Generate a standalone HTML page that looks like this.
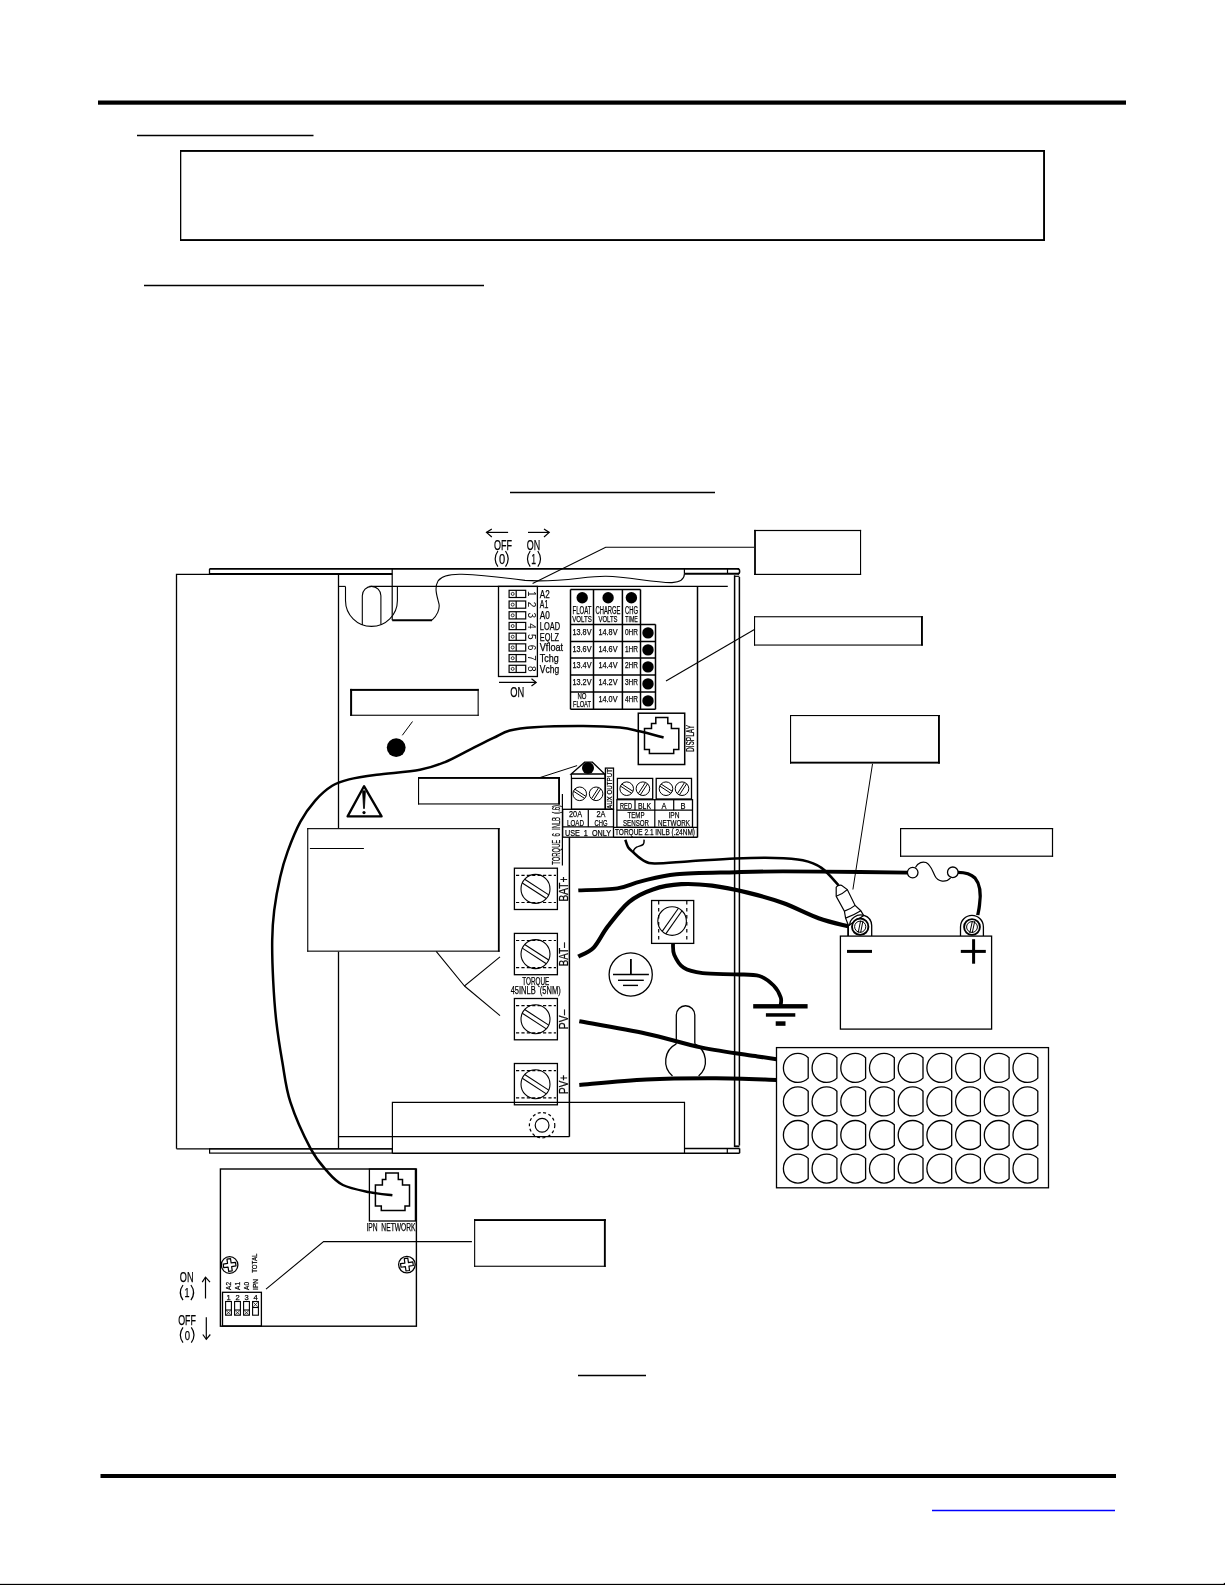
<!DOCTYPE html><html><head><meta charset="utf-8"><style>html,body{margin:0;padding:0;background:#fff;}svg{display:block;will-change:transform;}</style></head><body>
<svg width="1225" height="1585" viewBox="0 0 1225 1585" font-family='"Liberation Sans", sans-serif'>
<g stroke="#000" fill="none" stroke-linecap="butt">
<rect x="0" y="0" width="1225" height="1585" fill="#fff" stroke="none"/>
<rect x="98.00" y="100.50" width="1028.00" height="4.20" fill="#000" stroke="none"/>
<line x1="137.00" y1="135.50" x2="313.50" y2="135.50" stroke-width="1.3" />
<rect x="180.00" y="150.00" width="865.00" height="91.00" fill="#fff" stroke="none"/>
<rect x="180.00" y="150.00" width="1.30" height="91.00" fill="#000" stroke="none"/>
<rect x="180.00" y="150.00" width="865.00" height="1.90" fill="#000" stroke="none"/>
<rect x="1043.10" y="150.00" width="1.90" height="91.00" fill="#000" stroke="none"/>
<rect x="180.00" y="239.10" width="865.00" height="1.90" fill="#000" stroke="none"/>
<line x1="144.00" y1="285.50" x2="484.00" y2="285.50" stroke-width="1.3" />
<line x1="510.00" y1="492.50" x2="715.00" y2="492.50" stroke-width="1.3" />
<line x1="578.00" y1="1375.50" x2="646.00" y2="1375.50" stroke-width="1.3" />
<rect x="100.50" y="1474.00" width="1015.50" height="4.00" fill="#000" stroke="none"/>
<line x1="932.00" y1="1510.50" x2="1115.00" y2="1510.50" stroke-width="1.3" stroke="#0000ff"/>
<rect x="0.00" y="1583.85" width="1225.00" height="1.15" fill="#000" stroke="none"/>
<rect x="1223.80" y="1582.90" width="1.20" height="2.10" fill="#000" stroke="none"/>
<path d="M176.5,1148.8 V574.4 H392.2" stroke-width="1.3" />
<line x1="338.50" y1="574.40" x2="338.50" y2="1148.80" stroke-width="1.3" />
<line x1="176.50" y1="1148.80" x2="392.40" y2="1148.80" stroke-width="1.3" />
<line x1="209.50" y1="568.80" x2="739.00" y2="568.80" stroke-width="1.8" />
<line x1="209.50" y1="568.80" x2="209.50" y2="574.40" stroke-width="1.3" />
<line x1="209.50" y1="574.00" x2="392.20" y2="574.00" stroke-width="1.9" />
<line x1="684.40" y1="573.80" x2="739.00" y2="573.80" stroke-width="1.9" />
<line x1="684.40" y1="568.80" x2="684.40" y2="573.80" stroke-width="1.2" />
<line x1="727.50" y1="568.80" x2="727.50" y2="573.80" stroke-width="1.2" />
<path d="M737.5,568.8 Q739.6,568.8 739.6,571 V572 Q739.6,573.8 737.5,573.8" stroke-width="1.5" />
<line x1="734.60" y1="575.30" x2="734.60" y2="1147.10" stroke-width="1.5" />
<line x1="739.40" y1="577.00" x2="739.40" y2="1145.50" stroke-width="1.5" />
<line x1="734.60" y1="576.30" x2="739.40" y2="576.30" stroke-width="1.2" />
<line x1="734.60" y1="1146.30" x2="739.40" y2="1146.30" stroke-width="1.8" />
<rect x="209.60" y="1148.80" width="182.80" height="4.30" stroke-width="1.2" />
<line x1="392.40" y1="1153.20" x2="739.60" y2="1153.20" stroke-width="1.5" />
<path d="M392.4,1153.2 V1102.4 H684.5 V1153.2" stroke-width="1.2" />
<line x1="684.50" y1="1148.40" x2="739.60" y2="1148.40" stroke-width="1.5" />
<line x1="739.60" y1="1148.40" x2="739.60" y2="1153.20" stroke-width="1.5" />
<line x1="727.30" y1="1148.40" x2="727.30" y2="1153.20" stroke-width="1.2" />
<line x1="338.50" y1="586.40" x2="345.50" y2="586.40" stroke-width="1.1" />
<line x1="369.40" y1="586.40" x2="727.80" y2="586.40" stroke-width="1.1" />
<path d="M345.5,586.4 V600.5 A25.95,25.95 0 0 0 397.4,600.5 V586.4" stroke-width="1.1" />
<path d="M362.3,625 V595.7 A9.3,9.3 0 0 1 380.9,595.7 V624.5" stroke-width="1.1" />
<line x1="392.20" y1="568.80" x2="392.20" y2="620.30" stroke-width="1.2" />
<line x1="392.20" y1="620.20" x2="432.00" y2="620.20" stroke-width="1.9" />
<path d="M432,620.2 C437,616 440,609 439,604 C437,596 434,588 438,581 C442,575 452,574 462,574.3 C480,575 500,577 525,580.4 C560,583 585,576 606,576.3 C630,577 655,583 672,582.6 C682,582 684.4,578 684.4,573.8" stroke-width="1.1" />
<line x1="338.50" y1="1136.70" x2="569.40" y2="1136.70" stroke-width="1.2" />
<line x1="697.50" y1="586.40" x2="697.50" y2="837.40" stroke-width="1.5" />
<line x1="613.50" y1="837.30" x2="697.50" y2="837.30" stroke-width="1.5" />
<line x1="569.40" y1="837.30" x2="569.40" y2="1136.70" stroke-width="1.5" />
<line x1="562.40" y1="794.00" x2="562.40" y2="865.60" stroke-width="1.2" />
<rect x="498.50" y="586.40" width="38.90" height="90.10" stroke-width="1.3" />
<rect x="509.10" y="590.30" width="16.60" height="7.20" stroke-width="1.2" />
<line x1="516.20" y1="590.30" x2="516.20" y2="597.50" stroke-width="1.2" />
<circle cx="512.70" cy="593.90" r="1.50" stroke-width="0.8" />
<text transform="translate(531.8,593.90) rotate(90)" x="0" y="3.9" font-size="10.5" text-anchor="middle" fill="#000" stroke="none" textLength="5.6" lengthAdjust="spacingAndGlyphs">1</text>
<text x="539.80" y="597.70" font-size="10.4" text-anchor="start" textLength="9.90" lengthAdjust="spacingAndGlyphs" font-weight="normal" fill="#000" stroke="#000" stroke-width="0.25">A2</text>
<rect x="509.10" y="601.01" width="16.60" height="7.20" stroke-width="1.2" />
<line x1="516.20" y1="601.01" x2="516.20" y2="608.21" stroke-width="1.2" />
<circle cx="512.70" cy="604.61" r="1.50" stroke-width="0.8" />
<text transform="translate(531.8,604.61) rotate(90)" x="0" y="3.9" font-size="10.5" text-anchor="middle" fill="#000" stroke="none" textLength="5.6" lengthAdjust="spacingAndGlyphs">2</text>
<text x="539.80" y="608.41" font-size="10.4" text-anchor="start" textLength="8.50" lengthAdjust="spacingAndGlyphs" font-weight="normal" fill="#000" stroke="#000" stroke-width="0.25">A1</text>
<rect x="509.10" y="611.72" width="16.60" height="7.20" stroke-width="1.2" />
<line x1="516.20" y1="611.72" x2="516.20" y2="618.92" stroke-width="1.2" />
<circle cx="512.70" cy="615.32" r="1.50" stroke-width="0.8" />
<text transform="translate(531.8,615.32) rotate(90)" x="0" y="3.9" font-size="10.5" text-anchor="middle" fill="#000" stroke="none" textLength="5.6" lengthAdjust="spacingAndGlyphs">3</text>
<text x="539.80" y="619.12" font-size="10.4" text-anchor="start" textLength="10.10" lengthAdjust="spacingAndGlyphs" font-weight="normal" fill="#000" stroke="#000" stroke-width="0.25">A0</text>
<rect x="509.10" y="622.43" width="16.60" height="7.20" stroke-width="1.2" />
<line x1="516.20" y1="622.43" x2="516.20" y2="629.63" stroke-width="1.2" />
<circle cx="512.70" cy="626.03" r="1.50" stroke-width="0.8" />
<text transform="translate(531.8,626.03) rotate(90)" x="0" y="3.9" font-size="10.5" text-anchor="middle" fill="#000" stroke="none" textLength="5.6" lengthAdjust="spacingAndGlyphs">4</text>
<text x="539.80" y="629.83" font-size="10.4" text-anchor="start" textLength="20.20" lengthAdjust="spacingAndGlyphs" font-weight="normal" fill="#000" stroke="#000" stroke-width="0.25">LOAD</text>
<rect x="509.10" y="633.14" width="16.60" height="7.20" stroke-width="1.2" />
<line x1="516.20" y1="633.14" x2="516.20" y2="640.34" stroke-width="1.2" />
<circle cx="512.70" cy="636.74" r="1.50" stroke-width="0.8" />
<text transform="translate(531.8,636.74) rotate(90)" x="0" y="3.9" font-size="10.5" text-anchor="middle" fill="#000" stroke="none" textLength="5.6" lengthAdjust="spacingAndGlyphs">5</text>
<text x="539.80" y="640.54" font-size="10.4" text-anchor="start" textLength="19.30" lengthAdjust="spacingAndGlyphs" font-weight="normal" fill="#000" stroke="#000" stroke-width="0.25">EQLZ</text>
<rect x="509.10" y="643.85" width="16.60" height="7.20" stroke-width="1.2" />
<line x1="516.20" y1="643.85" x2="516.20" y2="651.05" stroke-width="1.2" />
<circle cx="512.70" cy="647.45" r="1.50" stroke-width="0.8" />
<text transform="translate(531.8,647.45) rotate(90)" x="0" y="3.9" font-size="10.5" text-anchor="middle" fill="#000" stroke="none" textLength="5.6" lengthAdjust="spacingAndGlyphs">6</text>
<text x="539.80" y="651.25" font-size="10.4" text-anchor="start" textLength="23.30" lengthAdjust="spacingAndGlyphs" font-weight="normal" fill="#000" stroke="#000" stroke-width="0.25">Vfloat</text>
<rect x="509.10" y="654.56" width="16.60" height="7.20" stroke-width="1.2" />
<line x1="516.20" y1="654.56" x2="516.20" y2="661.76" stroke-width="1.2" />
<circle cx="512.70" cy="658.16" r="1.50" stroke-width="0.8" />
<text transform="translate(531.8,658.16) rotate(90)" x="0" y="3.9" font-size="10.5" text-anchor="middle" fill="#000" stroke="none" textLength="5.6" lengthAdjust="spacingAndGlyphs">7</text>
<text x="539.80" y="661.96" font-size="10.4" text-anchor="start" textLength="18.90" lengthAdjust="spacingAndGlyphs" font-weight="normal" fill="#000" stroke="#000" stroke-width="0.25">Tchg</text>
<rect x="509.10" y="665.27" width="16.60" height="7.20" stroke-width="1.2" />
<line x1="516.20" y1="665.27" x2="516.20" y2="672.47" stroke-width="1.2" />
<circle cx="512.70" cy="668.87" r="1.50" stroke-width="0.8" />
<text transform="translate(531.8,668.87) rotate(90)" x="0" y="3.9" font-size="10.5" text-anchor="middle" fill="#000" stroke="none" textLength="5.6" lengthAdjust="spacingAndGlyphs">8</text>
<text x="539.80" y="672.67" font-size="10.4" text-anchor="start" textLength="19.30" lengthAdjust="spacingAndGlyphs" font-weight="normal" fill="#000" stroke="#000" stroke-width="0.25">Vchg</text>
<line x1="499.00" y1="682.40" x2="536.00" y2="682.40" stroke-width="1.2" />
<path d="M531.5,678.8 L536.2,682.4 L531.5,686" stroke-width="1.2" />
<text x="510.20" y="696.70" font-size="14.8" text-anchor="start" textLength="14.00" lengthAdjust="spacingAndGlyphs" font-weight="normal" fill="#000" stroke="#000" stroke-width="0.25">ON</text>
<line x1="486.50" y1="532.40" x2="508.10" y2="532.40" stroke-width="1.2" />
<path d="M491.8,529.1 L486.5,532.4 L491.8,537" stroke-width="1.2" />
<line x1="528.00" y1="532.40" x2="549.20" y2="532.40" stroke-width="1.2" />
<path d="M544,529.1 L549.2,532.4 L544,537" stroke-width="1.2" />
<text x="494.00" y="549.50" font-size="15.2" text-anchor="start" textLength="18.00" lengthAdjust="spacingAndGlyphs" font-weight="normal" fill="#000" stroke="#000" stroke-width="0.25">OFF</text>
<path d="M497.90,551.00 Q492.50,558.85 497.90,566.70" stroke-width="1.2" />
<path d="M505.50,551.00 Q510.90,558.85 505.50,566.70" stroke-width="1.2" />
<text x="498.90" y="563.80" font-size="14.81" text-anchor="start" textLength="6.20" lengthAdjust="spacingAndGlyphs" font-weight="normal" fill="#000" stroke="#000" stroke-width="0.25">0</text>
<text x="526.70" y="549.50" font-size="15.2" text-anchor="start" textLength="13.40" lengthAdjust="spacingAndGlyphs" font-weight="normal" fill="#000" stroke="#000" stroke-width="0.25">ON</text>
<path d="M530.20,551.00 Q524.80,558.85 530.20,566.70" stroke-width="1.2" />
<path d="M537.80,551.00 Q543.20,558.85 537.80,566.70" stroke-width="1.2" />
<text x="531.20" y="563.80" font-size="14.81" text-anchor="start" textLength="4.80" lengthAdjust="spacingAndGlyphs" font-weight="normal" fill="#000" stroke="#000" stroke-width="0.25">1</text>
<line x1="570.50" y1="589.50" x2="640.50" y2="589.50" stroke-width="1.5" />
<line x1="570.50" y1="589.50" x2="570.50" y2="709.30" stroke-width="1.5" />
<line x1="593.50" y1="589.50" x2="593.50" y2="709.30" stroke-width="1.5" />
<line x1="622.40" y1="589.50" x2="622.40" y2="709.30" stroke-width="1.5" />
<line x1="640.50" y1="589.50" x2="640.50" y2="709.30" stroke-width="1.5" />
<line x1="655.50" y1="624.40" x2="655.50" y2="709.30" stroke-width="1.5" />
<line x1="570.50" y1="624.40" x2="655.50" y2="624.40" stroke-width="1.5" />
<line x1="570.50" y1="641.40" x2="655.50" y2="641.40" stroke-width="1.5" />
<line x1="570.50" y1="658.00" x2="655.50" y2="658.00" stroke-width="1.5" />
<line x1="570.50" y1="675.00" x2="655.50" y2="675.00" stroke-width="1.5" />
<line x1="570.50" y1="692.00" x2="655.50" y2="692.00" stroke-width="1.5" />
<line x1="570.50" y1="709.30" x2="655.50" y2="709.30" stroke-width="1.5" />
<circle cx="582.20" cy="597.70" r="5.70" fill="#000" stroke="none"/>
<circle cx="608.10" cy="597.70" r="5.70" fill="#000" stroke="none"/>
<circle cx="631.40" cy="597.70" r="5.70" fill="#000" stroke="none"/>
<circle cx="648.00" cy="632.90" r="5.70" fill="#000" stroke="none"/>
<circle cx="648.00" cy="649.90" r="5.70" fill="#000" stroke="none"/>
<circle cx="648.00" cy="666.90" r="5.70" fill="#000" stroke="none"/>
<circle cx="648.00" cy="683.90" r="5.70" fill="#000" stroke="none"/>
<circle cx="648.00" cy="700.90" r="5.70" fill="#000" stroke="none"/>
<text x="582.00" y="613.70" font-size="10" text-anchor="middle" textLength="19.00" lengthAdjust="spacingAndGlyphs" font-weight="normal" fill="#000" stroke="#000" stroke-width="0.25">FLOAT</text>
<text x="582.00" y="621.60" font-size="9.4" text-anchor="middle" textLength="19.50" lengthAdjust="spacingAndGlyphs" font-weight="normal" fill="#000" stroke="#000" stroke-width="0.25">VOLTS</text>
<text x="608.00" y="613.70" font-size="10" text-anchor="middle" textLength="25.00" lengthAdjust="spacingAndGlyphs" font-weight="normal" fill="#000" stroke="#000" stroke-width="0.25">CHARGE</text>
<text x="608.00" y="621.60" font-size="9.4" text-anchor="middle" textLength="19.00" lengthAdjust="spacingAndGlyphs" font-weight="normal" fill="#000" stroke="#000" stroke-width="0.25">VOLTS</text>
<text x="631.50" y="613.70" font-size="10" text-anchor="middle" textLength="13.00" lengthAdjust="spacingAndGlyphs" font-weight="normal" fill="#000" stroke="#000" stroke-width="0.25">CHG</text>
<text x="631.50" y="621.60" font-size="9.4" text-anchor="middle" textLength="12.50" lengthAdjust="spacingAndGlyphs" font-weight="normal" fill="#000" stroke="#000" stroke-width="0.25">TIME</text>
<text x="582.00" y="634.80" font-size="9" text-anchor="middle" textLength="19.00" lengthAdjust="spacingAndGlyphs" font-weight="normal" fill="#000" stroke="#000" stroke-width="0.25">13.8V</text>
<text x="608.00" y="634.80" font-size="9" text-anchor="middle" textLength="19.00" lengthAdjust="spacingAndGlyphs" font-weight="normal" fill="#000" stroke="#000" stroke-width="0.25">14.8V</text>
<text x="631.50" y="634.80" font-size="9" text-anchor="middle" textLength="13.00" lengthAdjust="spacingAndGlyphs" font-weight="normal" fill="#000" stroke="#000" stroke-width="0.25">0HR</text>
<text x="582.00" y="651.80" font-size="9" text-anchor="middle" textLength="19.00" lengthAdjust="spacingAndGlyphs" font-weight="normal" fill="#000" stroke="#000" stroke-width="0.25">13.6V</text>
<text x="608.00" y="651.80" font-size="9" text-anchor="middle" textLength="19.00" lengthAdjust="spacingAndGlyphs" font-weight="normal" fill="#000" stroke="#000" stroke-width="0.25">14.6V</text>
<text x="631.50" y="651.80" font-size="9" text-anchor="middle" textLength="13.00" lengthAdjust="spacingAndGlyphs" font-weight="normal" fill="#000" stroke="#000" stroke-width="0.25">1HR</text>
<text x="582.00" y="668.40" font-size="9" text-anchor="middle" textLength="19.00" lengthAdjust="spacingAndGlyphs" font-weight="normal" fill="#000" stroke="#000" stroke-width="0.25">13.4V</text>
<text x="608.00" y="668.40" font-size="9" text-anchor="middle" textLength="19.00" lengthAdjust="spacingAndGlyphs" font-weight="normal" fill="#000" stroke="#000" stroke-width="0.25">14.4V</text>
<text x="631.50" y="668.40" font-size="9" text-anchor="middle" textLength="13.00" lengthAdjust="spacingAndGlyphs" font-weight="normal" fill="#000" stroke="#000" stroke-width="0.25">2HR</text>
<text x="582.00" y="685.40" font-size="9" text-anchor="middle" textLength="19.00" lengthAdjust="spacingAndGlyphs" font-weight="normal" fill="#000" stroke="#000" stroke-width="0.25">13.2V</text>
<text x="608.00" y="685.40" font-size="9" text-anchor="middle" textLength="19.00" lengthAdjust="spacingAndGlyphs" font-weight="normal" fill="#000" stroke="#000" stroke-width="0.25">14.2V</text>
<text x="631.50" y="685.40" font-size="9" text-anchor="middle" textLength="13.00" lengthAdjust="spacingAndGlyphs" font-weight="normal" fill="#000" stroke="#000" stroke-width="0.25">3HR</text>
<text x="608.00" y="702.40" font-size="9" text-anchor="middle" textLength="19.00" lengthAdjust="spacingAndGlyphs" font-weight="normal" fill="#000" stroke="#000" stroke-width="0.25">14.0V</text>
<text x="631.50" y="702.40" font-size="9" text-anchor="middle" textLength="13.00" lengthAdjust="spacingAndGlyphs" font-weight="normal" fill="#000" stroke="#000" stroke-width="0.25">4HR</text>
<text x="582.00" y="698.80" font-size="9" text-anchor="middle" textLength="9.00" lengthAdjust="spacingAndGlyphs" font-weight="normal" fill="#000" stroke="#000" stroke-width="0.25">NO</text>
<text x="582.00" y="707.00" font-size="9" text-anchor="middle" textLength="18.00" lengthAdjust="spacingAndGlyphs" font-weight="normal" fill="#000" stroke="#000" stroke-width="0.25">FLOAT</text>
<path d="M532.6,583.6 L605.7,547.3 H754.4" stroke-width="1.1" />
<line x1="666.00" y1="681.00" x2="754.40" y2="629.60" stroke-width="1.1" />
<rect x="754.10" y="529.90" width="107.00" height="45.10" fill="#fff" stroke="none"/>
<rect x="754.10" y="529.90" width="1.80" height="45.10" fill="#000" stroke="none"/>
<rect x="754.10" y="529.90" width="107.00" height="1.20" fill="#000" stroke="none"/>
<rect x="860.00" y="529.90" width="1.10" height="45.10" fill="#000" stroke="none"/>
<rect x="754.10" y="573.80" width="107.00" height="1.20" fill="#000" stroke="none"/>
<rect x="754.00" y="616.20" width="168.90" height="29.40" fill="#fff" stroke="none"/>
<rect x="754.00" y="616.20" width="1.10" height="29.40" fill="#000" stroke="none"/>
<rect x="754.00" y="616.20" width="168.90" height="1.10" fill="#000" stroke="none"/>
<rect x="921.00" y="616.20" width="1.90" height="29.40" fill="#000" stroke="none"/>
<rect x="754.00" y="644.50" width="168.90" height="1.10" fill="#000" stroke="none"/>
<rect x="638.30" y="713.20" width="46.40" height="51.30" stroke-width="1.5" />
<path d="M655.8,717.6 H667.8 V723.5 H671.4 V728.4 H678.8 V749.5 H673.7 V753.4 H649.4 V749.5 H644.5 V728.4 H651.5 V723.5 H655.8 Z" stroke-width="1.5" />
<text x="694.00" y="738.50" font-size="10" text-anchor="middle" textLength="27.00" lengthAdjust="spacingAndGlyphs" transform="rotate(-90 694.00 738.50)" font-weight="normal" fill="#000" stroke="#000" stroke-width="0.25">DISPLAY</text>
<path d="M571.2,774 L584.6,762.2 H592.4 L604.7,774 Z" stroke-width="1.3" />
<circle cx="588.00" cy="768.10" r="6.00" fill="#000" stroke="none"/>
<rect x="571.50" y="778.40" width="33.60" height="30.90" stroke-width="1.3" />
<line x1="571.20" y1="774.00" x2="571.50" y2="778.40" stroke-width="1.2" />
<line x1="604.70" y1="774.00" x2="605.10" y2="778.40" stroke-width="1.2" />
<circle cx="579.70" cy="793.80" r="6.80" stroke-width="1.0" />
<line x1="574.74" y1="789.15" x2="585.97" y2="796.44" stroke-width="1.0" />
<line x1="573.43" y1="791.16" x2="584.66" y2="798.45" stroke-width="1.0" />
<circle cx="596.10" cy="793.80" r="6.80" stroke-width="1.0" />
<line x1="591.45" y1="798.76" x2="598.74" y2="787.53" stroke-width="1.0" />
<line x1="593.46" y1="800.07" x2="600.75" y2="788.84" stroke-width="1.0" />
<rect x="605.40" y="768.10" width="8.10" height="41.20" stroke-width="1.3" />
<text x="612.30" y="789.00" font-size="8" text-anchor="middle" textLength="40.00" lengthAdjust="spacingAndGlyphs" transform="rotate(-90 612.30 789.00)" font-weight="normal" fill="#000" stroke="#000" stroke-width="0.25">AUX OUTPUT</text>
<rect x="562.70" y="809.30" width="50.80" height="27.90" stroke-width="1.3" />
<line x1="588.30" y1="809.30" x2="588.30" y2="826.90" stroke-width="1.2" />
<line x1="562.70" y1="826.90" x2="613.50" y2="826.90" stroke-width="1.2" />
<text x="575.50" y="817.30" font-size="9.5" text-anchor="middle" textLength="13.00" lengthAdjust="spacingAndGlyphs" font-weight="normal" fill="#000" stroke="#000" stroke-width="0.25">20A</text>
<text x="575.50" y="825.80" font-size="9.5" text-anchor="middle" textLength="17.00" lengthAdjust="spacingAndGlyphs" font-weight="normal" fill="#000" stroke="#000" stroke-width="0.25">LOAD</text>
<text x="601.00" y="817.30" font-size="9.5" text-anchor="middle" textLength="9.00" lengthAdjust="spacingAndGlyphs" font-weight="normal" fill="#000" stroke="#000" stroke-width="0.25">2A</text>
<text x="601.00" y="825.80" font-size="9.5" text-anchor="middle" textLength="13.00" lengthAdjust="spacingAndGlyphs" font-weight="normal" fill="#000" stroke="#000" stroke-width="0.25">CHG</text>
<text x="588.00" y="835.60" font-size="9.5" text-anchor="middle" textLength="46.00" lengthAdjust="spacingAndGlyphs" font-weight="normal" fill="#000" stroke="#000" stroke-width="0.25">USE &#160;1 &#160;ONLY</text>
<text x="560.30" y="834.80" font-size="10" text-anchor="middle" textLength="59.70" lengthAdjust="spacingAndGlyphs" transform="rotate(-90 560.30 834.80)" font-weight="normal" fill="#000" stroke="#000" stroke-width="0.25">TORQUE &#160;6 &#160;INLB &#160;(.6)</text>
<rect x="617.40" y="778.40" width="35.30" height="20.60" stroke-width="1.3" />
<circle cx="626.70" cy="788.70" r="6.80" stroke-width="1.0" />
<line x1="621.74" y1="784.05" x2="632.97" y2="791.34" stroke-width="1.0" />
<line x1="620.43" y1="786.06" x2="631.66" y2="793.35" stroke-width="1.0" />
<circle cx="642.90" cy="788.70" r="6.80" stroke-width="1.0" />
<line x1="638.25" y1="793.66" x2="645.54" y2="782.43" stroke-width="1.0" />
<line x1="640.26" y1="794.97" x2="647.55" y2="783.74" stroke-width="1.0" />
<rect x="656.20" y="778.40" width="35.30" height="20.60" stroke-width="1.3" />
<circle cx="666.00" cy="788.70" r="6.80" stroke-width="1.0" />
<line x1="661.04" y1="784.05" x2="672.27" y2="791.34" stroke-width="1.0" />
<line x1="659.73" y1="786.06" x2="670.96" y2="793.35" stroke-width="1.0" />
<circle cx="682.00" cy="788.70" r="6.80" stroke-width="1.0" />
<line x1="677.35" y1="793.66" x2="684.64" y2="782.43" stroke-width="1.0" />
<line x1="679.36" y1="794.97" x2="686.65" y2="783.74" stroke-width="1.0" />
<rect x="616.90" y="799.70" width="75.60" height="27.70" stroke-width="1.3" />
<line x1="635.00" y1="799.70" x2="635.00" y2="810.20" stroke-width="1.2" />
<line x1="654.80" y1="799.70" x2="654.80" y2="827.40" stroke-width="1.2" />
<line x1="673.70" y1="799.70" x2="673.70" y2="810.20" stroke-width="1.2" />
<line x1="616.90" y1="810.20" x2="692.50" y2="810.20" stroke-width="1.2" />
<line x1="613.50" y1="827.40" x2="697.50" y2="827.40" stroke-width="1.2" />
<text x="626.00" y="808.50" font-size="9" text-anchor="middle" textLength="12.00" lengthAdjust="spacingAndGlyphs" font-weight="normal" fill="#000" stroke="#000" stroke-width="0.25">RED</text>
<text x="644.50" y="808.50" font-size="9" text-anchor="middle" textLength="13.00" lengthAdjust="spacingAndGlyphs" font-weight="normal" fill="#000" stroke="#000" stroke-width="0.25">BLK</text>
<text x="664.00" y="808.50" font-size="9" text-anchor="middle" textLength="5.00" lengthAdjust="spacingAndGlyphs" font-weight="normal" fill="#000" stroke="#000" stroke-width="0.25">A</text>
<text x="683.00" y="808.50" font-size="9" text-anchor="middle" textLength="5.00" lengthAdjust="spacingAndGlyphs" font-weight="normal" fill="#000" stroke="#000" stroke-width="0.25">B</text>
<text x="636.00" y="817.60" font-size="9.5" text-anchor="middle" textLength="17.00" lengthAdjust="spacingAndGlyphs" font-weight="normal" fill="#000" stroke="#000" stroke-width="0.25">TEMP</text>
<text x="636.00" y="826.20" font-size="9.5" text-anchor="middle" textLength="26.00" lengthAdjust="spacingAndGlyphs" font-weight="normal" fill="#000" stroke="#000" stroke-width="0.25">SENSOR</text>
<text x="674.00" y="817.60" font-size="9.5" text-anchor="middle" textLength="11.00" lengthAdjust="spacingAndGlyphs" font-weight="normal" fill="#000" stroke="#000" stroke-width="0.25">IPN</text>
<text x="674.00" y="826.20" font-size="9.5" text-anchor="middle" textLength="32.00" lengthAdjust="spacingAndGlyphs" font-weight="normal" fill="#000" stroke="#000" stroke-width="0.25">NETWORK</text>
<text x="655.00" y="835.40" font-size="9" text-anchor="middle" textLength="80.00" lengthAdjust="spacingAndGlyphs" font-weight="normal" fill="#000" stroke="#000" stroke-width="0.25">TORQUE 2.1 INLB (.24NM)</text>
<rect x="514.40" y="868.20" width="43.00" height="41.30" stroke-width="1.3" />
<line x1="516.00" y1="875.30" x2="556.00" y2="875.30" stroke-width="1.2" stroke-dasharray="3.2 2.2"/>
<line x1="516.00" y1="902.50" x2="556.00" y2="902.50" stroke-width="1.2" stroke-dasharray="3.2 2.2"/>
<circle cx="535.50" cy="888.90" r="14.50" stroke-width="1.1" />
<line x1="524.68" y1="879.25" x2="548.72" y2="894.86" stroke-width="1.1" />
<line x1="522.28" y1="882.94" x2="546.32" y2="898.55" stroke-width="1.1" />
<text x="567.60" y="889.10" font-size="12" text-anchor="middle" textLength="25.00" lengthAdjust="spacingAndGlyphs" transform="rotate(-90 567.60 889.10)" font-weight="normal" fill="#000" stroke="#000" stroke-width="0.25">BAT+</text>
<rect x="514.40" y="933.40" width="43.00" height="41.30" stroke-width="1.3" />
<line x1="516.00" y1="940.50" x2="556.00" y2="940.50" stroke-width="1.2" stroke-dasharray="3.2 2.2"/>
<line x1="516.00" y1="967.70" x2="556.00" y2="967.70" stroke-width="1.2" stroke-dasharray="3.2 2.2"/>
<circle cx="535.50" cy="954.10" r="14.50" stroke-width="1.1" />
<line x1="524.68" y1="944.45" x2="548.72" y2="960.06" stroke-width="1.1" />
<line x1="522.28" y1="948.14" x2="546.32" y2="963.75" stroke-width="1.1" />
<text x="567.60" y="954.30" font-size="12" text-anchor="middle" textLength="23.70" lengthAdjust="spacingAndGlyphs" transform="rotate(-90 567.60 954.30)" font-weight="normal" fill="#000" stroke="#000" stroke-width="0.25">BAT–</text>
<rect x="514.40" y="998.50" width="43.00" height="41.30" stroke-width="1.3" />
<line x1="516.00" y1="1005.60" x2="556.00" y2="1005.60" stroke-width="1.2" stroke-dasharray="3.2 2.2"/>
<line x1="516.00" y1="1032.80" x2="556.00" y2="1032.80" stroke-width="1.2" stroke-dasharray="3.2 2.2"/>
<circle cx="535.50" cy="1019.20" r="14.50" stroke-width="1.1" />
<line x1="524.68" y1="1009.55" x2="548.72" y2="1025.16" stroke-width="1.1" />
<line x1="522.28" y1="1013.24" x2="546.32" y2="1028.85" stroke-width="1.1" />
<text x="567.60" y="1019.40" font-size="12" text-anchor="middle" textLength="19.60" lengthAdjust="spacingAndGlyphs" transform="rotate(-90 567.60 1019.40)" font-weight="normal" fill="#000" stroke="#000" stroke-width="0.25">PV–</text>
<rect x="514.40" y="1063.50" width="43.00" height="41.30" stroke-width="1.3" />
<line x1="516.00" y1="1070.60" x2="556.00" y2="1070.60" stroke-width="1.2" stroke-dasharray="3.2 2.2"/>
<line x1="516.00" y1="1097.80" x2="556.00" y2="1097.80" stroke-width="1.2" stroke-dasharray="3.2 2.2"/>
<circle cx="535.50" cy="1084.20" r="14.50" stroke-width="1.1" />
<line x1="524.68" y1="1074.55" x2="548.72" y2="1090.16" stroke-width="1.1" />
<line x1="522.28" y1="1078.24" x2="546.32" y2="1093.85" stroke-width="1.1" />
<text x="567.60" y="1084.40" font-size="12" text-anchor="middle" textLength="19.00" lengthAdjust="spacingAndGlyphs" transform="rotate(-90 567.60 1084.40)" font-weight="normal" fill="#000" stroke="#000" stroke-width="0.25">PV+</text>
<text x="535.70" y="984.70" font-size="10" text-anchor="middle" textLength="27.00" lengthAdjust="spacingAndGlyphs" font-weight="normal" fill="#000" stroke="#000" stroke-width="0.25">TORQUE</text>
<text x="535.70" y="994.20" font-size="10" text-anchor="middle" textLength="50.00" lengthAdjust="spacingAndGlyphs" font-weight="normal" fill="#000" stroke="#000" stroke-width="0.25">45INLB &#160;(5NM)</text>
<circle cx="542.10" cy="1125.20" r="12.70" stroke-width="1.2" stroke-dasharray="3 2.5"/>
<circle cx="542.10" cy="1125.20" r="6.90" stroke-width="1.2" />
<circle cx="630.70" cy="974.50" r="21.60" stroke-width="1.3" />
<line x1="630.90" y1="959.00" x2="630.90" y2="974.50" stroke-width="1.8" />
<line x1="613.00" y1="974.50" x2="648.90" y2="974.50" stroke-width="1.4" />
<line x1="618.00" y1="980.30" x2="643.80" y2="980.30" stroke-width="1.4" />
<line x1="623.00" y1="985.40" x2="638.00" y2="985.40" stroke-width="1.4" />
<rect x="651.60" y="900.50" width="42.10" height="42.90" stroke-width="1.3" />
<line x1="658.70" y1="901.00" x2="658.70" y2="943.00" stroke-width="1.2" stroke-dasharray="3.5 3.5"/>
<line x1="686.80" y1="901.00" x2="686.80" y2="943.00" stroke-width="1.2" stroke-dasharray="3.5 3.5"/>
<circle cx="672.10" cy="921.10" r="14.30" stroke-width="1.1" />
<line x1="662.19" y1="931.41" x2="678.40" y2="908.26" stroke-width="1.1" />
<line x1="665.80" y1="933.94" x2="682.01" y2="910.79" stroke-width="1.1" />
<path d="M676.3,1043.8 V1015 A9.25,9.25 0 0 1 694.8,1015 V1043.8" stroke-width="1.3" />
<path d="M676.3,1043.8 A19.5,19.5 0 0 0 672.5,1076 M698.6,1076 A19.5,19.5 0 0 0 694.8,1043.8" stroke-width="1.3" />
<path d="M673.00,943.40 C673.20,945.28 672.43,950.65 674.20,954.70 C675.97,958.75 678.87,964.62 683.60,967.70 C688.33,970.78 693.92,972.10 702.60,973.20 C711.28,974.30 726.23,973.83 735.70,974.30 C745.17,974.77 753.08,974.13 759.40,976.00 C765.72,977.87 770.05,981.95 773.60,985.50 C777.15,989.05 779.52,994.05 780.70,997.30 C781.88,1000.55 780.70,1003.72 780.70,1005.00" stroke-width="3.8" />
<rect x="753.20" y="1004.10" width="54.40" height="4.40" fill="#000" stroke="none"/>
<rect x="765.90" y="1013.20" width="29.40" height="3.50" fill="#000" stroke="none"/>
<rect x="775.70" y="1021.30" width="9.80" height="4.50" fill="#000" stroke="none"/>
<path d="M663.60,737.50 C659.60,736.47 646.87,732.95 639.60,731.30 C632.33,729.65 629.38,728.47 620.00,727.60 C610.62,726.73 597.58,726.17 583.30,726.10 C569.02,726.03 546.55,726.47 534.30,727.20 C522.05,727.93 516.60,728.72 509.80,730.50 C503.00,732.28 500.30,734.63 493.50,737.90 C486.70,741.17 477.17,746.03 469.00,750.10 C460.83,754.17 452.67,759.03 444.50,762.30 C436.33,765.57 431.30,767.62 420.00,769.70 C408.70,771.78 388.52,773.18 376.70,774.80 C364.88,776.42 356.52,777.57 349.10,779.40 C341.68,781.23 337.85,782.27 332.20,785.80 C326.55,789.33 320.52,794.58 315.20,800.60 C309.88,806.62 304.90,813.40 300.30,821.90 C295.70,830.40 290.95,842.42 287.60,851.60 C284.25,860.78 282.43,867.22 280.20,877.00 C277.97,886.78 275.53,899.70 274.20,910.30 C272.87,920.90 272.37,928.82 272.20,940.60 C272.03,952.38 272.52,967.53 273.20,981.00 C273.88,994.47 274.78,1007.93 276.30,1021.40 C277.82,1034.87 279.95,1048.33 282.30,1061.80 C284.65,1075.27 285.68,1087.72 290.40,1102.20 C295.12,1116.68 304.53,1137.25 310.60,1148.70 C316.67,1160.15 321.42,1164.85 326.80,1170.90 C332.18,1176.95 335.83,1181.47 342.90,1185.00 C349.97,1188.53 360.95,1190.40 369.20,1192.10 C377.45,1193.80 388.53,1194.68 392.40,1195.20" stroke-width="2.5" />
<path d="M625.30,839.70 C625.77,840.95 626.68,845.02 628.10,847.20 C629.52,849.38 631.28,850.62 633.80,852.80 C636.32,854.98 639.77,858.52 643.20,860.30 C646.63,862.08 646.58,863.33 654.40,863.50 C662.22,863.67 676.63,862.13 690.10,861.30 C703.57,860.47 721.12,859.07 735.20,858.50 C749.28,857.93 763.33,857.60 774.60,857.90 C785.87,858.20 794.98,858.63 802.80,860.30 C810.62,861.97 815.55,863.75 821.50,867.90 C827.45,872.05 835.67,882.32 838.50,885.20" stroke-width="2.5" />
<path d="M644.10,839.70 C643.95,840.48 644.45,843.15 643.20,844.40 C641.95,845.65 638.17,846.27 636.60,847.20 C635.03,848.13 634.27,849.07 633.80,850.00 C633.33,850.93 633.80,852.33 633.80,852.80" stroke-width="1.5" />
<path d="M578.30,890.40 C584.80,890.07 606.85,889.90 617.30,888.40 C627.75,886.90 631.13,883.77 641.00,881.40 C650.87,879.03 660.72,875.73 676.50,874.20 C692.28,872.67 717.95,872.67 735.70,872.20 C753.45,871.73 762.28,871.43 783.00,871.40 C803.72,871.37 839.28,871.80 860.00,872.00 C880.72,872.20 899.42,872.50 907.30,872.60" stroke-width="3.9" />
<path d="M578.30,956.60 C580.87,955.10 588.77,952.65 593.70,947.60 C598.63,942.55 601.98,933.93 607.90,926.30 C613.82,918.67 621.70,907.95 629.20,901.80 C636.70,895.65 644.22,892.33 652.90,889.40 C661.58,886.47 671.45,884.82 681.30,884.20 C691.15,883.58 700.95,884.30 712.00,885.70 C723.05,887.10 735.75,889.72 747.60,892.60 C759.45,895.48 771.27,898.73 783.10,903.00 C794.93,907.27 807.75,914.32 818.60,918.20 C829.45,922.08 843.27,924.95 848.20,926.30" stroke-width="4.2" />
<path d="M579.30,1021.20 C590.50,1023.28 626.05,1029.30 646.50,1033.70 C666.95,1038.10 683.50,1043.82 702.00,1047.60 C720.50,1051.38 745.08,1054.45 757.50,1056.40 C769.92,1058.35 773.33,1058.82 776.50,1059.30" stroke-width="4" />
<path d="M579.30,1085.00 C590.50,1084.08 623.72,1080.62 646.50,1079.50 C669.28,1078.38 694.33,1078.22 716.00,1078.30 C737.67,1078.38 766.42,1079.72 776.50,1080.00" stroke-width="4" />
<rect x="840.40" y="936.10" width="151.20" height="93.00" stroke-width="1.3" />
<rect x="847.00" y="949.90" width="25.00" height="3.00" fill="#000" stroke="none"/>
<rect x="960.80" y="949.90" width="25.00" height="3.00" fill="#000" stroke="none"/>
<rect x="972.10" y="939.20" width="3.00" height="24.50" fill="#000" stroke="none"/>
<path d="M960.5,936.1 V926.9 A11.45,11.45 0 0 1 983.4,926.9 V936.1" stroke-width="1.3" />
<circle cx="972.00" cy="927.00" r="7.90" stroke-width="1.9" />
<circle cx="972.00" cy="927.00" r="5.40" stroke-width="1.0" />
<line x1="969.80" y1="933.00" x2="972.40" y2="921.00" stroke-width="1.0" />
<line x1="972.20" y1="933.00" x2="974.80" y2="921.00" stroke-width="1.0" />
<path d="M848.1,936.1 V925.5" stroke-width="1.8" />
<path d="M871.7,936.1 V925.5 A11,11 0 0 0 864.1,915.4" stroke-width="1.3" />
<path d="M836.2,887.3 Q837.5,884.8 841.5,885.3 L847.3,889.6 L855.1,905.4 L860.8,910.7 L863.7,915.6 L848.5,925.5 L845.6,918.1 L844.4,911.1 L836.2,896.3 Z" stroke-width="1.2" fill="#fff"/>
<path d="M836.2,896.3 Q842,894.5 847.3,889.6" stroke-width="1.2" />
<path d="M844.4,911.1 Q850,909.5 855.1,905.4" stroke-width="1.2" />
<path d="M845.6,918.1 Q854,915 860.8,910.7" stroke-width="1.2" />
<path d="M849.5,925.8 A11,11 0 0 1 864.5,915.8" stroke-width="1.2" />
<circle cx="860.20" cy="926.70" r="8.20" stroke-width="1.9" fill="#fff"/>
<circle cx="860.20" cy="926.70" r="5.60" stroke-width="1.0" />
<line x1="858.20" y1="932.70" x2="860.60" y2="920.70" stroke-width="1.0" />
<line x1="860.60" y1="932.70" x2="863.00" y2="920.70" stroke-width="1.0" />
<circle cx="912.70" cy="872.60" r="5.30" stroke-width="1.3" fill="#fff"/>
<circle cx="952.80" cy="872.30" r="5.30" stroke-width="1.3" fill="#fff"/>
<path d="M915.4,867.5 C918,862 923,861.5 926,862.5 C931,865 932,870 935,876 C938,882 946,883 950.6,877.8" stroke-width="1.2" />
<path d="M958,872.3 C964,872.3 970,873 975,878 C980,884 981,895 979.5,905 C979,910 978,913 977.8,915.2" stroke-width="3.3" />
<line x1="872.60" y1="763.40" x2="852.90" y2="889.50" stroke-width="1.0" />
<rect x="790.00" y="715.00" width="149.90" height="48.60" fill="#fff" stroke="none"/>
<rect x="790.00" y="715.00" width="1.10" height="48.60" fill="#000" stroke="none"/>
<rect x="790.00" y="715.00" width="149.90" height="1.10" fill="#000" stroke="none"/>
<rect x="938.00" y="715.00" width="1.90" height="48.60" fill="#000" stroke="none"/>
<rect x="790.00" y="761.70" width="149.90" height="1.90" fill="#000" stroke="none"/>
<rect x="900.00" y="828.00" width="153.10" height="28.80" fill="#fff" stroke="none"/>
<rect x="900.00" y="828.00" width="1.20" height="28.80" fill="#000" stroke="none"/>
<rect x="900.00" y="828.00" width="153.10" height="1.20" fill="#000" stroke="none"/>
<rect x="1051.90" y="828.00" width="1.20" height="28.80" fill="#000" stroke="none"/>
<rect x="900.00" y="855.60" width="153.10" height="1.20" fill="#000" stroke="none"/>
<rect x="776.50" y="1047.60" width="272.00" height="140.20" stroke-width="1.3" />
<path d="M808.20,1057.70 A14.5,14.5 0 1 0 808.20,1078.10 Z" stroke-width="1.3" />
<path d="M836.90,1057.70 A14.5,14.5 0 1 0 836.90,1078.10 Z" stroke-width="1.3" />
<path d="M865.60,1057.70 A14.5,14.5 0 1 0 865.60,1078.10 Z" stroke-width="1.3" />
<path d="M894.30,1057.70 A14.5,14.5 0 1 0 894.30,1078.10 Z" stroke-width="1.3" />
<path d="M923.00,1057.70 A14.5,14.5 0 1 0 923.00,1078.10 Z" stroke-width="1.3" />
<path d="M951.70,1057.70 A14.5,14.5 0 1 0 951.70,1078.10 Z" stroke-width="1.3" />
<path d="M980.40,1057.70 A14.5,14.5 0 1 0 980.40,1078.10 Z" stroke-width="1.3" />
<path d="M1009.10,1057.70 A14.5,14.5 0 1 0 1009.10,1078.10 Z" stroke-width="1.3" />
<path d="M1037.80,1057.70 A14.5,14.5 0 1 0 1037.80,1078.10 Z" stroke-width="1.3" />
<path d="M808.20,1091.25 A14.5,14.5 0 1 0 808.20,1111.65 Z" stroke-width="1.3" />
<path d="M836.90,1091.25 A14.5,14.5 0 1 0 836.90,1111.65 Z" stroke-width="1.3" />
<path d="M865.60,1091.25 A14.5,14.5 0 1 0 865.60,1111.65 Z" stroke-width="1.3" />
<path d="M894.30,1091.25 A14.5,14.5 0 1 0 894.30,1111.65 Z" stroke-width="1.3" />
<path d="M923.00,1091.25 A14.5,14.5 0 1 0 923.00,1111.65 Z" stroke-width="1.3" />
<path d="M951.70,1091.25 A14.5,14.5 0 1 0 951.70,1111.65 Z" stroke-width="1.3" />
<path d="M980.40,1091.25 A14.5,14.5 0 1 0 980.40,1111.65 Z" stroke-width="1.3" />
<path d="M1009.10,1091.25 A14.5,14.5 0 1 0 1009.10,1111.65 Z" stroke-width="1.3" />
<path d="M1037.80,1091.25 A14.5,14.5 0 1 0 1037.80,1111.65 Z" stroke-width="1.3" />
<path d="M808.20,1124.80 A14.5,14.5 0 1 0 808.20,1145.20 Z" stroke-width="1.3" />
<path d="M836.90,1124.80 A14.5,14.5 0 1 0 836.90,1145.20 Z" stroke-width="1.3" />
<path d="M865.60,1124.80 A14.5,14.5 0 1 0 865.60,1145.20 Z" stroke-width="1.3" />
<path d="M894.30,1124.80 A14.5,14.5 0 1 0 894.30,1145.20 Z" stroke-width="1.3" />
<path d="M923.00,1124.80 A14.5,14.5 0 1 0 923.00,1145.20 Z" stroke-width="1.3" />
<path d="M951.70,1124.80 A14.5,14.5 0 1 0 951.70,1145.20 Z" stroke-width="1.3" />
<path d="M980.40,1124.80 A14.5,14.5 0 1 0 980.40,1145.20 Z" stroke-width="1.3" />
<path d="M1009.10,1124.80 A14.5,14.5 0 1 0 1009.10,1145.20 Z" stroke-width="1.3" />
<path d="M1037.80,1124.80 A14.5,14.5 0 1 0 1037.80,1145.20 Z" stroke-width="1.3" />
<path d="M808.20,1158.35 A14.5,14.5 0 1 0 808.20,1178.75 Z" stroke-width="1.3" />
<path d="M836.90,1158.35 A14.5,14.5 0 1 0 836.90,1178.75 Z" stroke-width="1.3" />
<path d="M865.60,1158.35 A14.5,14.5 0 1 0 865.60,1178.75 Z" stroke-width="1.3" />
<path d="M894.30,1158.35 A14.5,14.5 0 1 0 894.30,1178.75 Z" stroke-width="1.3" />
<path d="M923.00,1158.35 A14.5,14.5 0 1 0 923.00,1178.75 Z" stroke-width="1.3" />
<path d="M951.70,1158.35 A14.5,14.5 0 1 0 951.70,1178.75 Z" stroke-width="1.3" />
<path d="M980.40,1158.35 A14.5,14.5 0 1 0 980.40,1178.75 Z" stroke-width="1.3" />
<path d="M1009.10,1158.35 A14.5,14.5 0 1 0 1009.10,1178.75 Z" stroke-width="1.3" />
<path d="M1037.80,1158.35 A14.5,14.5 0 1 0 1037.80,1178.75 Z" stroke-width="1.3" />
<rect x="350.10" y="688.90" width="128.60" height="26.90" fill="#fff" stroke="none"/>
<rect x="350.10" y="688.90" width="2.00" height="26.90" fill="#000" stroke="none"/>
<rect x="350.10" y="688.90" width="128.60" height="2.00" fill="#000" stroke="none"/>
<rect x="477.60" y="688.90" width="1.10" height="26.90" fill="#000" stroke="none"/>
<rect x="350.10" y="714.70" width="128.60" height="1.10" fill="#000" stroke="none"/>
<circle cx="396.20" cy="747.60" r="9.40" fill="#000" stroke="none"/>
<line x1="402.30" y1="735.30" x2="412.50" y2="721.50" stroke-width="1.0" />
<rect x="418.00" y="777.00" width="142.00" height="27.50" fill="#fff" stroke="none"/>
<rect x="418.00" y="777.00" width="1.10" height="27.50" fill="#000" stroke="none"/>
<rect x="418.00" y="777.00" width="142.00" height="1.90" fill="#000" stroke="none"/>
<rect x="558.10" y="777.00" width="1.90" height="27.50" fill="#000" stroke="none"/>
<rect x="418.00" y="803.40" width="142.00" height="1.10" fill="#000" stroke="none"/>
<line x1="539.80" y1="777.60" x2="577.10" y2="765.60" stroke-width="1.0" />
<path d="M364,786.2 L347.6,816.4 H381.6 Z" stroke-width="2.3" stroke-linejoin="round"/>
<path d="M362.6,791.5 Q364,789.6 365.4,791.5 L364.4,808.5 H363.6 Z" stroke-width="0.8" fill="#000"/>
<circle cx="364.00" cy="812.60" r="1.60" fill="#000" stroke="none"/>
<rect x="307.20" y="828.10" width="192.50" height="123.60" fill="#fff" stroke="none"/>
<rect x="307.20" y="828.10" width="1.10" height="123.60" fill="#000" stroke="none"/>
<rect x="307.20" y="828.10" width="192.50" height="1.10" fill="#000" stroke="none"/>
<rect x="497.90" y="828.10" width="1.80" height="123.60" fill="#000" stroke="none"/>
<rect x="307.20" y="950.60" width="192.50" height="1.10" fill="#000" stroke="none"/>
<line x1="309.90" y1="848.50" x2="363.90" y2="848.50" stroke-width="1.1" />
<path d="M436.2,951.3 L464.5,986 L500,956.8" stroke-width="1.1" />
<path d="M464.5,986 L500,1015.7" stroke-width="1.1" />
<rect x="220.40" y="1169.00" width="196.00" height="157.20" stroke-width="1.4" />
<rect x="369.40" y="1169.00" width="46.00" height="52.00" stroke-width="1.3" />
<path d="M385.8,1173 H398.3 V1179.5 H402.5 V1185 H409.5 V1206 H405 V1210.5 H381.3 V1206 H375.4 V1185 H382.4 V1179.5 H385.8 Z" stroke-width="1.5" />
<text x="391.00" y="1230.80" font-size="10" text-anchor="middle" textLength="49.00" lengthAdjust="spacingAndGlyphs" font-weight="normal" fill="#000" stroke="#000" stroke-width="0.25">IPN &#160;NETWORK</text>
<circle cx="229.60" cy="1265.00" r="8.30" stroke-width="1.3" />
<path d="M227.79999999999998,1258.8 H231.4 V1263.2 H235.79999999999998 V1266.8 H231.4 V1271.2 H227.79999999999998 V1266.8 H223.4 V1263.2 H227.79999999999998 Z" stroke-width="1.2" stroke-linejoin="round" transform="rotate(-8 229.6 1265)"/>
<circle cx="406.90" cy="1264.60" r="8.30" stroke-width="1.3" />
<path d="M405.09999999999997,1258.3999999999999 H408.7 V1262.8 H413.09999999999997 V1266.3999999999999 H408.7 V1270.8 H405.09999999999997 V1266.3999999999999 H400.7 V1262.8 H405.09999999999997 Z" stroke-width="1.2" stroke-linejoin="round" transform="rotate(-8 406.9 1264.6)"/>
<path d="M266,1289.1 L323.6,1241.6 H471.9" stroke-width="1.1" />
<rect x="474.10" y="1219.10" width="131.70" height="47.70" fill="#fff" stroke="none"/>
<rect x="474.10" y="1219.10" width="1.10" height="47.70" fill="#000" stroke="none"/>
<rect x="474.10" y="1219.10" width="131.70" height="1.90" fill="#000" stroke="none"/>
<rect x="603.90" y="1219.10" width="1.90" height="47.70" fill="#000" stroke="none"/>
<rect x="474.10" y="1265.70" width="131.70" height="1.10" fill="#000" stroke="none"/>
<rect x="222.50" y="1292.30" width="38.90" height="33.70" stroke-width="1.3" />
<rect x="225.60" y="1301.50" width="5.80" height="13.70" stroke-width="1.1" />
<line x1="225.60" y1="1310.00" x2="231.40" y2="1310.00" stroke-width="1.1" />
<path d="M226.4,1310.8 L230.6,1314.5 M230.6,1310.8 L226.4,1314.5" stroke-width="0.7" />
<text x="228.50" y="1299.70" font-size="8" text-anchor="middle" textLength="4.20" lengthAdjust="spacingAndGlyphs" font-weight="normal" fill="#000" stroke="#000" stroke-width="0.25">1</text>
<rect x="234.60" y="1301.50" width="5.80" height="13.70" stroke-width="1.1" />
<line x1="234.60" y1="1310.00" x2="240.40" y2="1310.00" stroke-width="1.1" />
<path d="M235.4,1310.8 L239.6,1314.5 M239.6,1310.8 L235.4,1314.5" stroke-width="0.7" />
<text x="237.50" y="1299.70" font-size="8" text-anchor="middle" textLength="4.20" lengthAdjust="spacingAndGlyphs" font-weight="normal" fill="#000" stroke="#000" stroke-width="0.25">2</text>
<rect x="243.60" y="1301.50" width="5.80" height="13.70" stroke-width="1.1" />
<line x1="243.60" y1="1310.00" x2="249.40" y2="1310.00" stroke-width="1.1" />
<path d="M244.4,1310.8 L248.6,1314.5 M248.6,1310.8 L244.4,1314.5" stroke-width="0.7" />
<text x="246.50" y="1299.70" font-size="8" text-anchor="middle" textLength="4.20" lengthAdjust="spacingAndGlyphs" font-weight="normal" fill="#000" stroke="#000" stroke-width="0.25">3</text>
<rect x="252.60" y="1301.50" width="5.80" height="13.70" stroke-width="1.1" />
<line x1="252.60" y1="1307.50" x2="258.40" y2="1307.50" stroke-width="1.1" />
<path d="M253.4,1302.3 L257.6,1306.8 M257.6,1302.3 L253.4,1306.8" stroke-width="0.7" />
<text x="255.50" y="1299.70" font-size="8" text-anchor="middle" textLength="4.20" lengthAdjust="spacingAndGlyphs" font-weight="normal" fill="#000" stroke="#000" stroke-width="0.25">4</text>
<text x="231.30" y="1289.90" font-size="8" text-anchor="start" textLength="8.00" lengthAdjust="spacingAndGlyphs" transform="rotate(-90 231.30 1289.90)" font-weight="normal" fill="#000" stroke="#000" stroke-width="0.25">A2</text>
<text x="240.20" y="1289.90" font-size="8" text-anchor="start" textLength="8.00" lengthAdjust="spacingAndGlyphs" transform="rotate(-90 240.20 1289.90)" font-weight="normal" fill="#000" stroke="#000" stroke-width="0.25">A1</text>
<text x="249.10" y="1289.90" font-size="8" text-anchor="start" textLength="8.00" lengthAdjust="spacingAndGlyphs" transform="rotate(-90 249.10 1289.90)" font-weight="normal" fill="#000" stroke="#000" stroke-width="0.25">A0</text>
<text x="258.00" y="1289.90" font-size="8" text-anchor="start" textLength="11.00" lengthAdjust="spacingAndGlyphs" transform="rotate(-90 258.00 1289.90)" font-weight="normal" fill="#000" stroke="#000" stroke-width="0.25">IPN</text>
<text x="257.50" y="1272.80" font-size="8" text-anchor="start" textLength="19.20" lengthAdjust="spacingAndGlyphs" transform="rotate(-90 257.50 1272.80)" font-weight="normal" fill="#000" stroke="#000" stroke-width="0.25">TOTAL</text>
<text x="179.80" y="1282.10" font-size="14" text-anchor="start" textLength="13.70" lengthAdjust="spacingAndGlyphs" font-weight="normal" fill="#000" stroke="#000" stroke-width="0.25">ON</text>
<path d="M183.00,1285.00 Q177.60,1292.55 183.00,1300.10" stroke-width="1.2" />
<path d="M190.90,1285.00 Q196.30,1292.55 190.90,1300.10" stroke-width="1.2" />
<text x="184.50" y="1297.20" font-size="12.76" text-anchor="start" textLength="5.00" lengthAdjust="spacingAndGlyphs" font-weight="normal" fill="#000" stroke="#000" stroke-width="0.25">1</text>
<line x1="205.50" y1="1277.20" x2="205.50" y2="1298.50" stroke-width="1.2" />
<path d="M202.2,1282.1 L205.5,1277.2 L210,1282.1" stroke-width="1.2" />
<text x="178.20" y="1324.60" font-size="14" text-anchor="start" textLength="17.80" lengthAdjust="spacingAndGlyphs" font-weight="normal" fill="#000" stroke="#000" stroke-width="0.25">OFF</text>
<path d="M183.00,1327.40 Q177.60,1335.00 183.00,1342.60" stroke-width="1.2" />
<path d="M191.30,1327.40 Q196.70,1335.00 191.30,1342.60" stroke-width="1.2" />
<text x="184.70" y="1339.70" font-size="12.89" text-anchor="start" textLength="5.30" lengthAdjust="spacingAndGlyphs" font-weight="normal" fill="#000" stroke="#000" stroke-width="0.25">0</text>
<line x1="206.30" y1="1317.20" x2="206.30" y2="1339.30" stroke-width="1.2" />
<path d="M202.8,1334.5 L206.3,1339.3 L210.3,1334.5" stroke-width="1.2" />
</g></svg></body></html>
